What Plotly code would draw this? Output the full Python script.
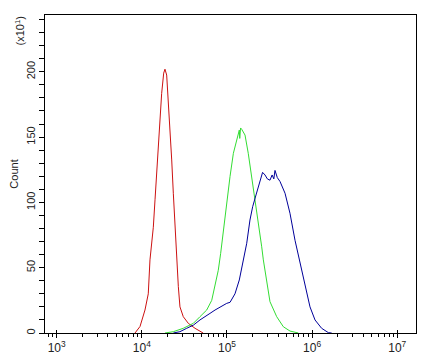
import plotly.graph_objects as go

# Fluorescence intensity (x) and counts (x10^1)
red_x = [8318, 9528, 10890, 11910, 12470, 13650, 14290, 15210, 16030, 17100, 18070,
         18710, 19590, 20460, 21430, 22440, 23440, 24550, 25700, 26850, 28050, 30690,
         35160, 42170, 52480]
red_y = [0, 5, 17.6, 30, 56, 81, 102, 132.5, 158, 183.5, 199,
         202, 197.5, 178.4, 158, 132.5, 107, 81.4, 56, 35.5, 20, 12.5,
         7.4, 3.6, 0]

green_x = [18710, 23440, 30690, 40270, 48190, 57810, 66220, 72440, 79070, 84330,
           90570, 99310, 108700, 118900, 132100, 139600, 141300, 144500, 148900,
           162900, 177800, 195000, 213300, 233300, 255900, 267300, 292400, 319900,
           383700, 459200, 549500, 688700]
green_y = [0, 1, 3.6, 7.4, 12.5, 17.6, 25, 35.5, 48, 61,
           79, 99, 120, 137.6, 150, 155.4, 149, 157, 156,
           151.6, 137.6, 120, 104, 86.5, 66, 56, 38, 24,
           12.5, 4.8, 1.5, 0]

blue_x = [23440, 28050, 33650, 40270, 48190, 57810, 63100, 72440, 82800, 99310,
          108700, 124200, 139600, 155600, 170600, 186200, 200400, 219300, 244300,
          262000, 279900, 298000, 319900, 339000, 355000, 366400, 390000, 419800,
          480800, 549500, 629500, 721100, 824100, 944100, 1081000, 1294000,
          1549000, 1698000]
blue_y = [0, 1, 3.6, 6, 10, 13.8, 15, 17.6, 20, 22.7,
          23.5, 30, 40.6, 56, 68.7, 86.5, 96.7, 105.7, 117,
          123, 121, 118, 117, 121, 118, 124.5, 119, 116,
          107, 91.7, 71, 53, 35.5, 20, 10, 3.6,
          0.3, 0]

x_tickvals = [1e3, 1e4, 1e5, 1e6, 1e7]
x_ticktext = ["10<sup>3</sup>", "10<sup>4</sup>", "10<sup>5</sup>",
              "10<sup>6</sup>", "10<sup>7</sup>"]
y_tickvals = [0, 50, 100, 150, 200]
x_range_log = [2.863, 7.22]

fig = go.Figure()
for xs, ys, col in [(red_x, red_y, "#cc1111"),
                    (green_x, green_y, "#33dd33"),
                    (blue_x, blue_y, "#000099")]:
    fig.add_trace(go.Scatter(x=xs, y=ys, mode="lines",
                             line=dict(color=col, width=1),
                             showlegend=False, hoverinfo="skip"))
# empty trace so the overlay axis (inner half of the major ticks) is drawn
fig.add_trace(go.Scatter(x=[], y=[], xaxis="x2", showlegend=False,
                         hoverinfo="skip"))

font = dict(family="Liberation Sans, Arial, sans-serif", size=11, color="#222")
xfont = dict(family="Liberation Sans, Arial, sans-serif", size=12, color="#222")

# page body has an 8px margin, so the figure is sized to fit the window
fig.update_layout(
    width=427, height=355,
    margin=dict(l=37, r=19, t=7, b=30, autoexpand=False),
    paper_bgcolor="white", plot_bgcolor="white",
    font=font,
    xaxis=dict(
        type="log", range=x_range_log, automargin=False,
        tickvals=x_tickvals, ticktext=x_ticktext,
        ticks="outside", ticklen=4, tickcolor="black", tickwidth=1,
        minor=dict(ticks="outside", ticklen=3, tickcolor="black", dtick="D1"),
        showline=True, linecolor="black", linewidth=1, mirror=True,
        showgrid=False, zeroline=False, tickfont=xfont,
    ),
    xaxis2=dict(
        type="log", range=x_range_log, automargin=False,
        overlaying="x", side="bottom", anchor="y",
        tickvals=x_tickvals, showticklabels=False,
        ticks="inside", ticklen=3, tickcolor="black", tickwidth=1,
        showline=False, showgrid=False, zeroline=False,
    ),
    yaxis=dict(
        range=[0, 243.5], automargin=False,
        tickvals=y_tickvals, tickangle=-90,
        ticks="outside", ticklen=5, tickcolor="black", tickwidth=1,
        minor=dict(ticks="outside", ticklen=5, tickcolor="black",
                   tickvals=list(range(0, 241, 10))),
        showline=True, linecolor="black", linewidth=1, mirror=True,
        showgrid=False, zeroline=False, tickfont=font,
        title=dict(text="Count", font=font, standoff=6),
    ),
    annotations=[dict(
        text="(x10<sup>1</sup>)", textangle=-90,
        xref="paper", yref="paper", x=-0.07, y=1.0,
        xanchor="center", yanchor="top", showarrow=False, font=font,
    )],
)

fig.write_html("out.html")
